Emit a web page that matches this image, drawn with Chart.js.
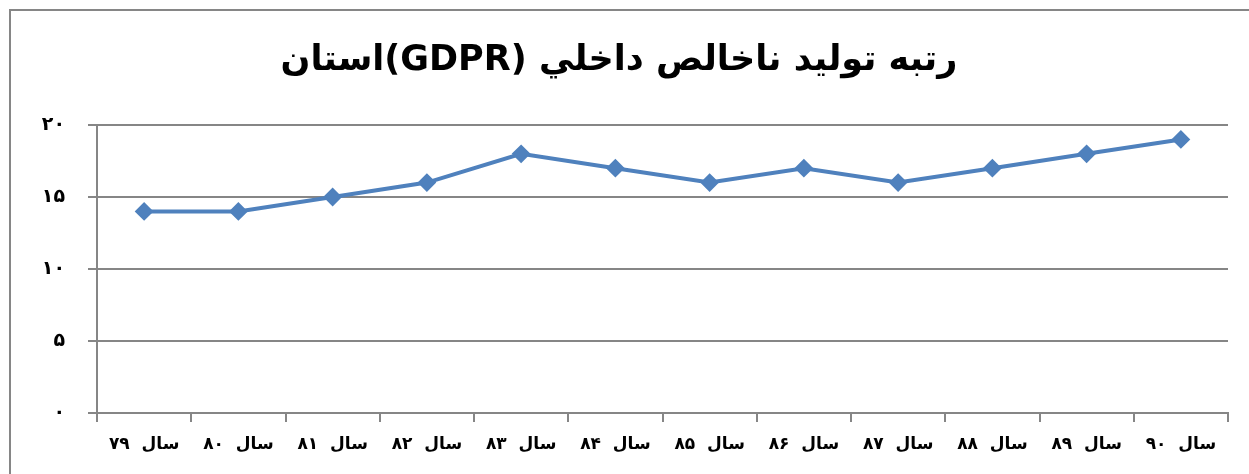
<!DOCTYPE html>
<html>
<head>
<meta charset="utf-8">
<script src="https://cdn.jsdelivr.net/npm/chart.js@4/dist/chart.umd.min.js"></script>
<style>
  html, body { margin: 0; padding: 0; background: #fff; overflow: hidden; }
</style>
</head>
<body>
<canvas id="chart" dir="rtl" width="1249" height="474"></canvas>
<script>
// ── Data ──
const years = ['سال  ۷۹','سال  ۸۰','سال  ۸۱','سال  ۸۲','سال  ۸۳','سال  ۸۴','سال  ۸۵','سال  ۸۶','سال  ۸۷','سال  ۸۸','سال  ۸۹','سال  ۹۰'];
const ranks = [14, 14, 15, 16, 18, 17, 16, 17, 16, 17, 18, 19];
const yTicks = [0, 5, 10, 15, 20];
const titleText = 'رتبه توليد ناخالص داخلي (GDPR)استان';

const faDigits = '۰۱۲۳۴۵۶۷۸۹';
const toFa = n => String(n).replace(/\d/g, d => faDigits[d]);

const GRID = '#868686';
const BLUE = '#4f81bd';
const FONT = "'DejaVu Sans', Arial, sans-serif";

// outer chart frame: only the left and top edges are in view
const framePlugin = {
  id: 'frame',
  beforeDraw(chart) {
    const ctx = chart.ctx;
    ctx.save();
    ctx.strokeStyle = GRID;
    ctx.lineWidth = 2;
    ctx.beginPath();
    ctx.moveTo(10, chart.height);
    ctx.lineTo(10, 10);
    ctx.lineTo(chart.width, 10);
    ctx.stroke();
    ctx.restore();
  }
};

new Chart(document.getElementById('chart'), {
  type: 'line',
  data: {
    labels: years,
    datasets: [{
      data: ranks,
      borderColor: BLUE,
      backgroundColor: BLUE,
      borderWidth: 4,
      pointStyle: 'rectRot',
      pointRadius: 8,
      pointBorderWidth: 2,
      pointBackgroundColor: BLUE,
      pointBorderColor: BLUE,
      tension: 0,
      fill: false,
    }]
  },
  options: {
    responsive: false,
    animation: false,
    layout: { padding: { left: 10, right: 21, top: 10, bottom: 0 } },
    plugins: {
      legend: { display: false },
      tooltip: { enabled: false },
      title: {
        display: true,
        text: titleText,
        color: '#000',
        font: { family: FONT, size: 35, weight: 'bold' },
        padding: { top: 30, bottom: 43 },
      }
    },
    scales: {
      x: {
        offset: true,
        grid: { offset: true, drawOnChartArea: false, drawTicks: true, tickLength: 9, color: GRID, lineWidth: 2 },
        border: { display: true, color: GRID, width: 2 },
        ticks: { color: '#000', padding: 12, maxRotation: 0, autoSkip: false,
                 font: { family: FONT, size: 17, weight: 'bold' } },
        afterFit: s => { s.height = 61; }
      },
      y: {
        min: 0, max: 20,
        afterBuildTicks: s => { s.ticks = yTicks.map(v => ({ value: v })); },
        grid: { color: GRID, lineWidth: 2, drawTicks: true, tickLength: 9 },
        border: { display: true, color: GRID, width: 2 },
        ticks: { color: '#000', padding: 23, callback: v => toFa(v),
                 font: { family: FONT, size: 19, weight: 'bold' } },
        afterFit: s => { s.width = 87; }
      }
    }
  },
  plugins: [framePlugin]
});
</script>
</body>
</html>
